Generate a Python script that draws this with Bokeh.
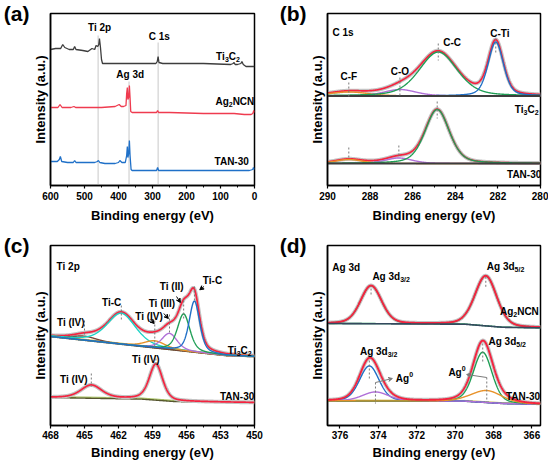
import numpy as np
from bokeh.plotting import figure
from bokeh.models import Range1d, FixedTicker, Arrow, VeeHead, LinearAxis
from bokeh.layouts import gridplot
from bokeh.embed import file_html
from bokeh.resources import INLINE
from bokeh.core.properties import value

FONT = "Liberation Sans"

# ======================= DATA =======================
# (a) survey spectra  (binding energy eV, intensity a.u.)
a_ti3c2_E = [600, 585, 570, 564, 558, 545, 533, 529, 525, 505, 490, 478, 470, 466, 461, 458, 456, 453, 450, 447,
             400, 300, 290, 286, 283.5, 281, 270, 150, 70, 63, 60, 57, 50, 40, 37, 33, 25, 15, 0]
a_ti3c2_I = [136, 137, 137, 141, 138, 136, 136, 139, 136, 135, 134, 137, 136, 140, 139, 141, 147, 138, 126, 122,
             122, 122, 122, 124, 129, 123, 122, 122, 121, 122, 123, 121, 121, 122, 124, 121, 119, 119, 119]
a_ag2ncn_E = [600, 578, 572, 566, 540, 531, 526, 500, 450, 410, 398, 392, 385, 378, 376, 374, 372.5, 370, 368, 366,
              364, 360, 300, 288, 285, 282, 250, 150, 60, 30, 10, 5, 2, 0]
a_ag2ncn_I = [78, 78, 81, 78, 78, 79, 78, 78, 78, 79, 81, 79, 79, 80, 92, 98, 86, 88, 100, 88,
              74, 73, 73, 73, 75, 73, 73, 72, 72, 71, 71, 72, 75, 73]
a_tan_E = [600, 580, 574, 571, 567, 550, 533, 529, 525, 500, 470, 462, 459, 455, 440, 410, 400, 396, 390, 380,
           376, 374, 372.5, 370, 368, 366, 363, 360, 300, 288, 285, 282, 250, 150, 50, 15, 5, 3, 0]
a_tan_I = [24, 24, 26, 29, 24, 23, 23, 25, 23, 23, 23, 24, 25, 23, 22, 22, 23, 25, 23, 23,
           30, 39, 28, 32, 45, 30, 16, 15, 15, 15, 18, 15, 15, 15, 15, 15, 16, 18, 16]
a_peak_names = ["Ti 2p", "Ag 3d", "C 1s"]
a_peak_E = [460, 369, 283.5]

# (b) C 1s fits: centre (eV), height above background, FWHM (eV)
b_names = ["C-F", "C-O", "C-C", "C-Ti"]
b_ti3c2_center = [289.0, 286.6, 284.8, 282.1]
b_ti3c2_height = [4, 6.5, 44, 54]
b_ti3c2_fwhm = [2.2, 1.8, 2.1, 0.85]
b_ti3c2_bg = 89.5
b_tan_center = [289.0, 286.65, 284.85]
b_tan_height = [4, 5.5, 54]
b_tan_fwhm = [1.5, 1.5, 1.35]
b_tan_bg = 22

# (c) Ti 2p fits
c_names = ["Ti(IV) 2p1/2", "Ti-C 2p1/2", "Ti(IV)", "Ti(III)", "Ti(II)", "Ti-C"]
c_ti3c2_center = [465.0, 461.75, 458.8, 457.5, 456.25, 455.3]
c_ti3c2_height = [4, 31, 7, 16, 37, 51]
c_ti3c2_fwhm = [2.5, 3.0, 2.2, 1.6, 1.3, 1.1]
c_ti3c2_bg_E = [468, 452.5, 450]
c_ti3c2_bg_I = [89, 70, 69]
c_tan_center = [464.4, 458.7]
c_tan_height = [13, 36]
c_tan_fwhm = [2.2, 1.4]
c_tan_bg_E = [468, 460, 457, 450]
c_tan_bg_I = [28, 26.5, 24, 23]

# (d) Ag 3d fits
d_ag2ncn_center = [374.38, 368.4]
d_ag2ncn_height = [38, 50]
d_ag2ncn_fwhm = [1.3, 1.35]
d_ag2ncn_bg_E = [376.65, 369.5, 367.5, 365.55]
d_ag2ncn_bg_I = [102, 101.3, 98.2, 97.7]
d_tan_names = ["Ag 3d3/2", "Ag0 3d3/2", "Ag 3d5/2", "Ag0 3d5/2"]
d_tan_center = [374.47, 374.15, 368.56, 368.35]
d_tan_height = [35, 9, 50, 12]
d_tan_fwhm = [1.2, 1.6, 1.15, 1.9]
d_tan_bg_E = [376.65, 369.5, 367.5, 365.55]
d_tan_bg_I = [24.7, 24.3, 22, 21.3]

# ======================= STYLE =======================
RED = "#f5233f"
GREEN = "#1f9e55"
BLUE = "#1f6fc6"
PURPLE = "#b070d8"
ORANGE = "#e8922a"
CYAN = "#19d3c5"
BROWN = "#7a4636"
DARK = "#3d3d3d"
OLIVE = "#c2ae3a"
HALO = "#c4c4c4"
MARK = "#7a7a7a"

W = {' ': 278, '(': 333, ')': 333, '-': 333, '/': 278, '.': 278, 'A': 722, 'C': 722, 'F': 611, 'I': 278,
     'N': 722, 'O': 778, 'T': 611, 'V': 667, 'a': 556, 'd': 611, 'g': 611, 'i': 278, 'p': 611, 's': 556,
     'e': 556, 'n': 611, 'r': 389, 'y': 556, 't': 333, 'u': 611}


def tw(s, size):
    return sum(W.get(ch, 556) for ch in s) / 1000.0 * size


def rich(p, x, y, parts, size=10, align="center", color="black"):
    sub = 0.7
    widths = [tw(t, size * sub if k else size) for t, k in parts]
    total = sum(widths)
    off = {"left": 0.0, "center": -total / 2, "right": -total}[align]
    for (t, k), wd in zip(parts, widths):
        fs = size * sub if k else size
        dy = {None: 0, "sub": 3, "sup": -4}[k]
        p.text(x=[x], y=[y], text=[t], x_offset=off, y_offset=dy, text_font=value(FONT),
               text_font_style="bold", text_font_size=f"{fs:.1f}px", text_align="left",
               text_baseline="middle", text_color=color)
        off += wd


def N(s):
    return [(s, None)]


TI3C2 = [("Ti", None), ("3", "sub"), ("C", None), ("2", "sub")]
AG2NCN = [("Ag", None), ("2", "sub"), ("NCN", None)]
AG32 = [("Ag 3d", None), ("3/2", "sub")]
AG52 = [("Ag 3d", None), ("5/2", "sub")]
AG0 = [("Ag", None), ("0", "sup")]


def gl(x, c, h, w, m):
    t = (x - c) / w
    return h * ((1 - m) * np.exp(-4 * np.log(2) * t * t) + m / (1 + 4 * t * t))


def make_fig(xr, yh, w, h, bl, br, bt, bb, ticks, minors, lstd, astd, panel):
    p = figure(width=w, height=h, x_range=Range1d(*xr), y_range=Range1d(0, yh),
               output_backend="svg", toolbar_location=None,
               min_border_left=bl, min_border_right=br, min_border_top=bt, min_border_bottom=bb)
    p.xgrid.visible = False
    p.ygrid.visible = False
    p.outline_line_color = "black"
    p.outline_line_width = 1.5
    p.background_fill_color = "white"
    p.border_fill_color = "white"
    xa = p.xaxis[0]
    xa.ticker = FixedTicker(ticks=ticks, minor_ticks=minors)
    xa.axis_label = "Binding energy (eV)"
    xa.axis_line_width = 1.5
    xa.major_tick_out = 3
    xa.major_tick_in = 0
    xa.minor_tick_out = 2
    xa.minor_tick_in = 0
    xa.major_tick_line_width = 1.2
    xa.minor_tick_line_width = 1.0
    xa.major_label_standoff = lstd
    xa.axis_label_standoff = astd
    ya = p.yaxis[0]
    ya.ticker = FixedTicker(ticks=[])
    ya.axis_label = "Intensity (a.u.)"
    ya.axis_line_width = 1.5
    ya.major_tick_out = 0
    ya.major_tick_in = 0
    ya.minor_tick_out = 0
    ya.minor_tick_in = 0
    ya.axis_label_standoff = 3
    for ax in (xa, ya):
        ax.axis_label_text_font = FONT
        ax.axis_label_text_font_style = "bold"
        ax.axis_label_text_font_size = "13px"
        ax.axis_label_text_color = "black"
        ax.major_label_text_font = FONT
        ax.major_label_text_font_style = "bold"
        ax.major_label_text_font_size = "10px"
        ax.major_label_text_color = "black"
    # panel letter as a horizontal label on an outer, tick-less left axis
    la = LinearAxis(ticker=FixedTicker(ticks=[]), axis_label=panel,
                    axis_label_orientation="horizontal", axis_label_align="end",
                    axis_line_color=None, major_tick_line_color=None, minor_tick_line_color=None,
                    major_tick_out=0, minor_tick_out=0, major_tick_in=0, minor_tick_in=0,
                    axis_label_standoff=0, axis_label_text_font=FONT, axis_label_text_font_style="bold",
                    axis_label_text_font_size="21px", axis_label_text_color="black")
    p.add_layout(la, "left")
    return p


def markers(p, xs, tops, bots):
    p.segment(x0=xs, y0=tops, x1=xs, y1=bots, line_color=MARK, line_width=1, line_dash="2 2")


def arrow(p, x0, y0, x1, y1, color="black"):
    p.add_layout(Arrow(end=VeeHead(size=4, line_color=color, fill_color=color, line_width=1),
                       x_start=x0, y_start=y0, x_end=x1, y_end=y1, line_color=color, line_width=1))


# ======================= (a) =======================
pa = make_fig((600, 0), 172, 275, 232, 43, 21, 13, 47, list(range(600, -1, -100)),
              list(range(550, 0, -100)), 3, 5, "(a)")
pa.segment(x0=a_peak_E, y0=[150, 104, 143], x1=a_peak_E, y1=[0, 0, 0], line_color="#c8c8c8", line_width=1)
pa.line(a_ti3c2_E, a_ti3c2_I, line_color=DARK, line_width=1.3)
pa.line(a_ag2ncn_E, a_ag2ncn_I, line_color="#ef3b4f", line_width=1.3)
pa.line(a_tan_E, a_tan_I, line_color="#1f70c8", line_width=1.3)
rich(pa, 455.5, 158, N(a_peak_names[0]))
rich(pa, 365.4, 111, N(a_peak_names[1]))
rich(pa, 280, 149, N(a_peak_names[2]))
rich(pa, 78, 129, TI3C2)
rich(pa, 57.8, 84, AG2NCN)
rich(pa, 66, 24, N("TAN-30"))

# ======================= (b) =======================
pb = make_fig((290, 280), 172, 273, 232, 52, 8, 13, 47, list(range(290, 279, -2)),
              list(range(289, 280, -2)), 3, 5, "(b)")
xb = np.linspace(290, 280, 700)
b_cols1 = [ORANGE, PURPLE, GREEN, BLUE]
env = b_ti3c2_bg + sum(gl(xb, c, h, w, 0.35) for c, h, w in zip(b_ti3c2_center, b_ti3c2_height, b_ti3c2_fwhm))
pb.line(xb, env, line_color=HALO, line_width=4)
pb.line(xb, env, line_color=RED, line_width=1.7)
for c, h, w, col in zip(b_ti3c2_center, b_ti3c2_height, b_ti3c2_fwhm, b_cols1):
    pb.line(xb, b_ti3c2_bg + gl(xb, c, h, w, 0.35), line_color=col, line_width=1.4)
pb.line([290, 280], [b_ti3c2_bg, b_ti3c2_bg], line_color=DARK, line_width=2)
env2 = b_tan_bg + sum(gl(xb, c, h, w, 0.35) for c, h, w in zip(b_tan_center, b_tan_height, b_tan_fwhm))
pb.line(xb, env2, line_color=HALO, line_width=4)
pb.line(xb, env2, line_color=RED, line_width=1.7)
for c, h, w, col in zip(b_tan_center, b_tan_height, b_tan_fwhm, b_cols1[:3]):
    pb.line(xb, b_tan_bg + gl(xb, c, h, w, 0.35), line_color=col, line_width=1.4)
pb.line([290, 280], [b_tan_bg, b_tan_bg], line_color=DARK, line_width=2)
markers(pb, [282.1, 284.8, 286.6, 289.0], [147, 142, 108, 103], [132, 125, 88, 89])
markers(pb, [284.85, 286.65, 289.0], [84, 40, 38], [67, 28, 28])
rich(pb, 289.77, 153, N("C 1s"), align="left")
rich(pb, 281.9, 152, N(b_names[3]))
rich(pb, 284.15, 143, N(b_names[2]))
rich(pb, 286.6, 114, N(b_names[1]))
rich(pb, 289.0, 109, N(b_names[0]))
rich(pb, 280.65, 76, TI3C2)
rich(pb, 280.75, 11, N("TAN-30"))

# ======================= (c) =======================
pc = make_fig((468, 450), 180, 275, 230, 43, 21, 13, 37, list(range(468, 449, -3)),
              [466.5, 463.5, 460.5, 457.5, 454.5, 451.5], 2, 3, "(c)")
xc = np.linspace(468, 450, 800)
bgc = np.interp(xc, c_ti3c2_bg_E[::-1], c_ti3c2_bg_I[::-1])
c_cols = [BROWN, CYAN, ORANGE, PURPLE, GREEN, BLUE]
comps = [gl(xc, c, h, w, 0.45) for c, h, w in zip(c_ti3c2_center, c_ti3c2_height, c_ti3c2_fwhm)]
envc = bgc + sum(comps)
pc.line(xc, envc, line_color=HALO, line_width=4)
pc.line(xc, envc, line_color=RED, line_width=1.7)
pc.line(xc, bgc, line_color="#55552f", line_width=1.8)
pc.line(xc, bgc + 1, line_color=OLIVE, line_width=1)
for comp, col in zip(comps, c_cols):
    pc.line(xc, bgc + comp, line_color=col, line_width=1.4)
bgt = np.interp(xc, c_tan_bg_E[::-1], c_tan_bg_I[::-1])
envt = bgt + sum(gl(xc, c, h, w, 0.45) for c, h, w in zip(c_tan_center, c_tan_height, c_tan_fwhm))
pc.line(xc, bgt, line_color="#55552f", line_width=1.6)
pc.line(xc, bgt + 1, line_color="#8fb03a", line_width=1)
pc.line(xc, envt, line_color=HALO, line_width=4)
pc.line(xc, envt, line_color=RED, line_width=1.7)
markers(pc, c_ti3c2_center, [105, 120, 105, 111, 125, 139], [89, 105, 77, 92, 105, 124])
markers(pc, c_tan_center, [52, 67], [39, 59])
arrow(pc, 459.2, 106, 458.85, 102)
arrow(pc, 458.0, 112, 457.6, 107)
arrow(pc, 456.88, 129, 456.54, 123)
arrow(pc, 454.46, 139, 454.83, 135.7)
rich(pc, 467.46, 159, N("Ti 2p"), align="left")
rich(pc, 466.2, 103, N("Ti (IV)"))
rich(pc, 462.6, 123, N("Ti-C"))
rich(pc, 459.3, 109, N("Ti (IV)"))
rich(pc, 458.16, 122, N("Ti (III)"))
rich(pc, 457.3, 139.5, N("Ti (II)"))
rich(pc, 453.7, 145.5, N("Ti-C"))
rich(pc, 451.3, 75, TI3C2)
rich(pc, 465.93, 46, N("Ti (IV)"))
rich(pc, 459.58, 66, N("Ti (IV)"))
rich(pc, 451.5, 29, N("TAN-30"))

# ======================= (d) =======================
pd_ = make_fig((376.65, 365.55), 180, 273, 230, 52, 8, 13, 37, list(range(376, 365, -2)),
               [375, 373, 371, 369, 367], 2, 3, "(d)")
xd = np.linspace(376.65, 365.55, 800)
bgu = np.interp(xd, d_ag2ncn_bg_E[::-1], d_ag2ncn_bg_I[::-1])
compu = [gl(xd, c, h, w, 0.25) for c, h, w in zip(d_ag2ncn_center, d_ag2ncn_height, d_ag2ncn_fwhm)]
envu = bgu + sum(compu)
pd_.line(xd, envu, line_color=HALO, line_width=4)
for comp in compu:
    pd_.line(xd, bgu + comp, line_color=GREEN, line_width=1.4)
pd_.line(xd, envu, line_color=RED, line_width=1.9)
pd_.line(xd, bgu, line_color="#34495e", line_width=1.6)
bgl = np.interp(xd, d_tan_bg_E[::-1], d_tan_bg_I[::-1])
d_cols = [BLUE, PURPLE, GREEN, ORANGE]
compl = [gl(xd, c, h, w, 0.25) for c, h, w in zip(d_tan_center, d_tan_height, d_tan_fwhm)]
envl = bgl + sum(compl)
pd_.line(xd, envl, line_color=HALO, line_width=4)
pd_.line(xd, bgl, line_color="#34495e", line_width=1.6)
pd_.line(xd, bgl + 0.8, line_color=OLIVE, line_width=1)
for comp, col in zip(compl, d_cols):
    pd_.line(xd, bgl + comp, line_color=col, line_width=1.4)
pd_.line(xd, envl, line_color=RED, line_width=1.9)
markers(pd_, d_ag2ncn_center, [137, 148.7], [130, 138.7])
markers(pd_, d_tan_center, [65, 43, 82, 48], [45, 22, 62, 23.7])
arrow(pd_, 374.15, 43, 373.27, 47, color=MARK)
arrow(pd_, 368.35, 48, 369.4, 51, color=MARK)
rich(pd_, 376.4, 158, N("Ag 3d"), align="left")
rich(pd_, 374.31, 148.7, AG32, align="left")
rich(pd_, 368.35, 158.7, AG52, align="left")
rich(pd_, 366.65, 114, AG2NCN)
rich(pd_, 374.96, 74, AG32, align="left")
rich(pd_, 373.09, 47.5, AG0, align="left")
rich(pd_, 368.26, 84, AG52, align="left")
rich(pd_, 370.35, 53, AG0, align="left")
rich(pd_, 366.44, 29, N("TAN-30"))

grid = gridplot([[pa, pb], [pc, pd_]], toolbar_location=None)
open("out.html", "w").write(file_html(grid, INLINE))
